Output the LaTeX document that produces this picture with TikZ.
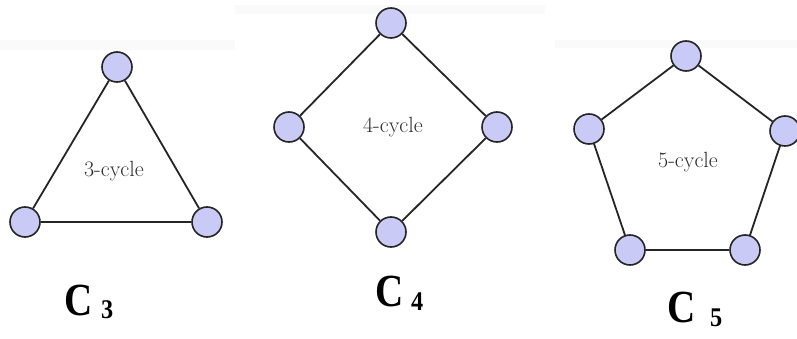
\documentclass[tikz,border=0pt]{standalone}
\usepackage{fontspec}
\newfontfamily\labfont{Liberation Serif}
\definecolor{vfill}{HTML}{CACAF6}
\definecolor{vline}{HTML}{252525}
\definecolor{txtgray}{HTML}{2E2E2E}
\tikzset{
  vert/.style={circle, draw=vline, line width=1.6pt, fill=vfill, minimum size=30pt, inner sep=0pt},
  edge/.style={draw=vline, line width=1.8pt},
  cyc/.style={text=txtgray, font=\fontsize{22}{24}\selectfont},
  big/.style={font=\labfont\bfseries\fontsize{46}{48}\selectfont, inner sep=0pt, anchor=base west, xscale=0.85},
  sub/.style={font=\labfont\bfseries\fontsize{27}{29}\selectfont, inner sep=0pt, anchor=base west, xscale=0.9}
}
\begin{document}
\begin{tikzpicture}[x=1pt,y=-1pt]
\useasboundingbox (0,0) rectangle (797,339);
\fill[white] (0,0) rectangle (797,339);
% faint bands
\fill[gray!4] (0,40) rectangle (235,50);
\fill[gray!4] (235,5) rectangle (545,14);
\fill[gray!4] (555,40) rectangle (797,48);
% C3
\node[vert] (a1) at (117,67) {};
\node[vert] (a2) at (25,222) {};
\node[vert] (a3) at (207,222) {};
\draw[edge] (a1) -- (a2); \draw[edge] (a2) -- (a3); \draw[edge] (a3) -- (a1);
\node[cyc] (t3) at (114,171) {3-cycle};
% C4
\node[vert] (b1) at (391,23) {};
\node[vert] (b2) at (289,127) {};
\node[vert] (b3) at (497,127) {};
\node[vert] (b4) at (391,232) {};
\draw[edge] (b1) -- (b2); \draw[edge] (b2) -- (b4); \draw[edge] (b4) -- (b3); \draw[edge] (b3) -- (b1);
\node[cyc] (t4) at (393,127) {4-cycle};
% C5
\node[vert] (c1) at (686,56) {};
\node[vert] (c2) at (589,129) {};
\node[vert] (c3) at (785,131) {};
\node[vert] (c4) at (630,250) {};
\node[vert] (c5) at (745,250) {};
\draw[edge] (c1) -- (c2); \draw[edge] (c2) -- (c4); \draw[edge] (c4) -- (c5); \draw[edge] (c5) -- (c3); \draw[edge] (c3) -- (c1);
\node[cyc] (t5) at (688,162) {5-cycle};
% labels
\node[big] (l3) at (64,315) {C};
\node[sub] (s3) at (101,318) {3};
\node[big] (l4) at (375,306) {C};
\node[sub] (s4) at (411,310) {4};
\node[big] (l5) at (667,322) {C};
\node[sub] (s5) at (710,326) {5};
\end{tikzpicture}
\end{document}
